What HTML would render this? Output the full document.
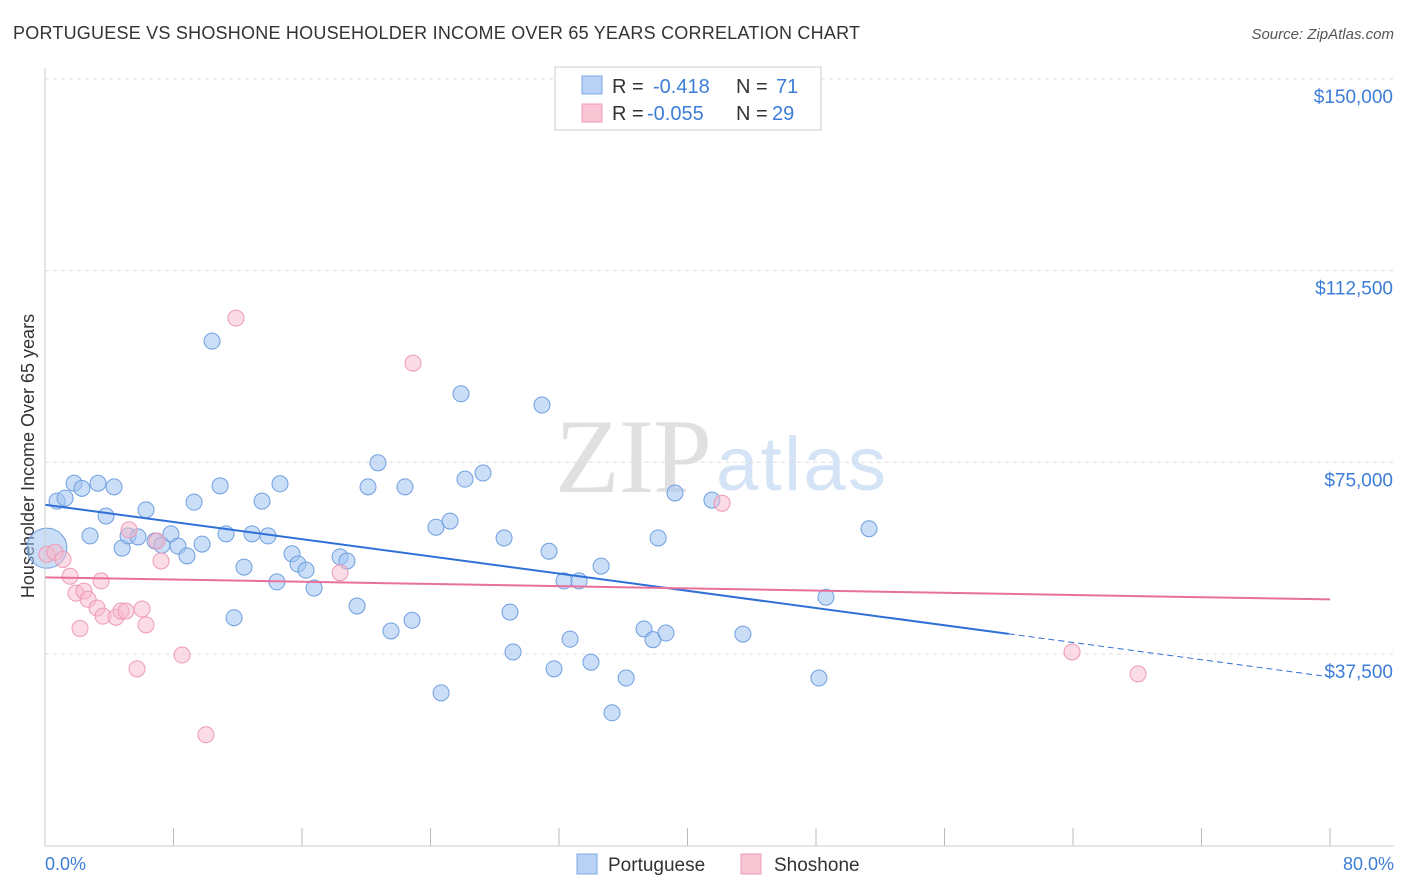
<!DOCTYPE html>
<html><head><meta charset="utf-8"><style>
body{margin:0;background:#fff;font-family:"Liberation Sans",sans-serif;}
#wrap{position:relative;width:1406px;height:892px;overflow:hidden}
</style></head><body>
<div id="wrap">
<svg id="svg" width="1406" height="892" xmlns="http://www.w3.org/2000/svg">
<text x="13" y="39" font-size="18" fill="#333" textLength="847">PORTUGUESE VS SHOSHONE HOUSEHOLDER INCOME OVER 65 YEARS CORRELATION CHART</text>
<text x="1394" y="39" font-size="15" fill="#555" font-style="italic" text-anchor="end">Source: ZipAtlas.com</text>
<text x="555" y="492" font-size="106" font-family="Liberation Serif,serif" fill="#e0e0e0" textLength="157">ZIP</text>
<text x="716" y="490" font-size="76" fill="#d4e3f5" textLength="170">atlas</text>
<text transform="translate(34,456) rotate(-90)" font-size="18" fill="#333" text-anchor="middle">Householder Income Over 65 years</text>
<g id="grid"></g><g id="marks"></g>
<line x1="45" y1="68" x2="45" y2="846" stroke="#ccc"/>
<line x1="45" y1="846" x2="1394" y2="846" stroke="#ccc"/>
<text x="45" y="870" font-size="18" fill="#3d7dd8">0.0%</text>
<text x="1394" y="870" font-size="18" fill="#3d7dd8" text-anchor="end">80.0%</text>
<g font-size="20">
<rect x="555" y="67" width="266" height="63" fill="#fff" stroke="#ccc"/>
<rect x="582" y="76" width="20" height="18" fill="#b7d2f5" stroke="#7eaae6"/>
<rect x="582" y="104" width="20" height="18" fill="#f9c6d6" stroke="#ee9ab5"/>
<text x="612" y="93" fill="#333">R =</text><text x="653" y="93" fill="#3d7dd8">-0.418</text>
<text x="736" y="93" fill="#333">N =</text><text x="776" y="93" fill="#3d7dd8">71</text>
<text x="612" y="120" fill="#333">R =</text><text x="647" y="120" fill="#3d7dd8">-0.055</text>
<text x="736" y="120" fill="#333">N =</text><text x="772" y="120" fill="#3d7dd8">29</text>
</g>
<g>
<rect x="577" y="854" width="20" height="20" fill="#b7d2f5" stroke="#7eaae6"/>
<text x="608" y="871" font-size="19" fill="#333">Portuguese</text>
<rect x="741" y="854" width="20" height="20" fill="#f9c6d6" stroke="#ee9ab5"/>
<text x="774" y="871" font-size="19" fill="#333">Shoshone</text>
</g>
</svg></div>
<script>
const yTicks=[37500,75000,112500,150000];
const yTickLabels=["$37,500","$75,000","$112,500","$150,000"];
const xTicks=[0,8,16,24,32,40,48,56,64,72,80];
const portX=[0.12,0.75,1.25,1.81,2.30,3.30,4.30,2.80,3.80,4.80,6.29,5.17,5.79,6.85,7.28,7.84,8.28,8.84,9.28,9.78,10.40,10.90,11.27,11.77,12.39,12.89,13.51,13.88,14.44,14.63,15.38,15.75,16.25,16.75,18.37,18.80,19.43,20.11,20.73,21.54,22.41,22.85,24.34,24.66,25.22,25.90,26.15,27.27,28.58,28.95,29.14,30.94,31.38,31.69,32.31,32.69,33.25,33.99,34.62,35.30,36.18,37.29,37.85,38.17,38.66,39.22,41.52,43.45,48.18,48.62,51.30];
const portY=[58.2,67.4,68.0,70.9,69.9,70.9,70.2,60.6,64.5,58.2,65.7,60.6,60.4,59.6,58.8,61.0,58.6,56.7,67.2,59.0,98.7,70.4,61.0,44.6,54.5,61.0,67.4,60.6,51.6,70.8,57.1,55.1,53.9,50.4,56.5,55.7,46.9,70.2,74.9,42.0,70.2,44.1,62.3,29.9,63.5,88.4,71.7,72.9,60.2,45.7,37.9,86.2,57.6,34.6,51.8,40.4,51.8,35.9,54.7,26.0,32.8,42.4,40.3,60.2,41.6,69.0,67.6,41.4,32.8,48.6,62.0];
const shoX=[0.12,0.62,1.12,1.56,1.93,2.18,2.43,2.68,3.24,3.49,3.61,4.42,4.73,5.04,5.23,5.73,6.04,6.29,6.97,7.22,8.53,10.02,11.89,18.37,22.91,42.15,63.94,68.05];
const shoY=[57.0,57.4,56.0,52.7,49.4,42.5,49.8,48.2,46.5,51.8,44.9,44.7,45.9,45.9,61.8,34.6,46.3,43.2,59.6,55.7,37.3,21.7,103.2,53.4,94.4,67.0,37.9,33.6];
const portTrend=[66.7,-0.421];
const shoTrend=[52.5,-0.054];
const NS="http://www.w3.org/2000/svg";
const X=v=>45+v*(1285/80);
const Y=v=>845.7-v*(191.7/37500);
function mk(tag,attrs,parent){const e=document.createElementNS(NS,tag);for(const k in attrs)e.setAttribute(k,attrs[k]);parent.appendChild(e);return e;}
const grid=document.getElementById('grid'),marks=document.getElementById('marks');
yTicks.forEach((t,i)=>{
 const l=mk('line',{x1:45,x2:1394,y1:Y(t),y2:Y(t),stroke:'#ddd','stroke-dasharray':'4,4'},grid);
 
 
 const tx=mk('text',{x:1393,y:Y(t)+24,'font-size':19,fill:'#3d7dd8','text-anchor':'end'},grid);
 tx.textContent=yTickLabels[i];
 
 
});
xTicks.forEach(t=>{
 const l=mk('line',{x1:X(t),x2:X(t),y1:828,y2:846,stroke:'#bbb'},grid);
 
 
});
portX.forEach((x,i)=>{
 const c=mk('circle',{cx:X(x),cy:Y(portY[i]*1000),r:i==0?20:8,fill:'rgba(160,195,240,0.55)',stroke:'#6f9fe0','stroke-width':1},marks);
 
 
});
shoX.forEach((x,i)=>{
 const c=mk('circle',{cx:X(x),cy:Y(shoY[i]*1000),r:8,fill:'rgba(248,185,205,0.5)',stroke:'#ee9ab5','stroke-width':1},marks);
 
 
});
const pt=x=>Y((portTrend[0]+portTrend[1]*x)*1000), st=x=>Y((shoTrend[0]+shoTrend[1]*x)*1000);
let l1=mk('line',{x1:X(0),y1:pt(0),x2:X(60),y2:pt(60),stroke:'#2f6fd6','stroke-width':2},marks);


let l2=mk('line',{x1:X(60),y1:pt(60),x2:X(80),y2:pt(80),stroke:'#2f6fd6','stroke-width':1,'stroke-dasharray':'6,4'},marks);


let l3=mk('line',{x1:X(0),y1:st(0),x2:X(80),y2:st(80),stroke:'#e8709a','stroke-width':2},marks);


</script>
</body></html>
